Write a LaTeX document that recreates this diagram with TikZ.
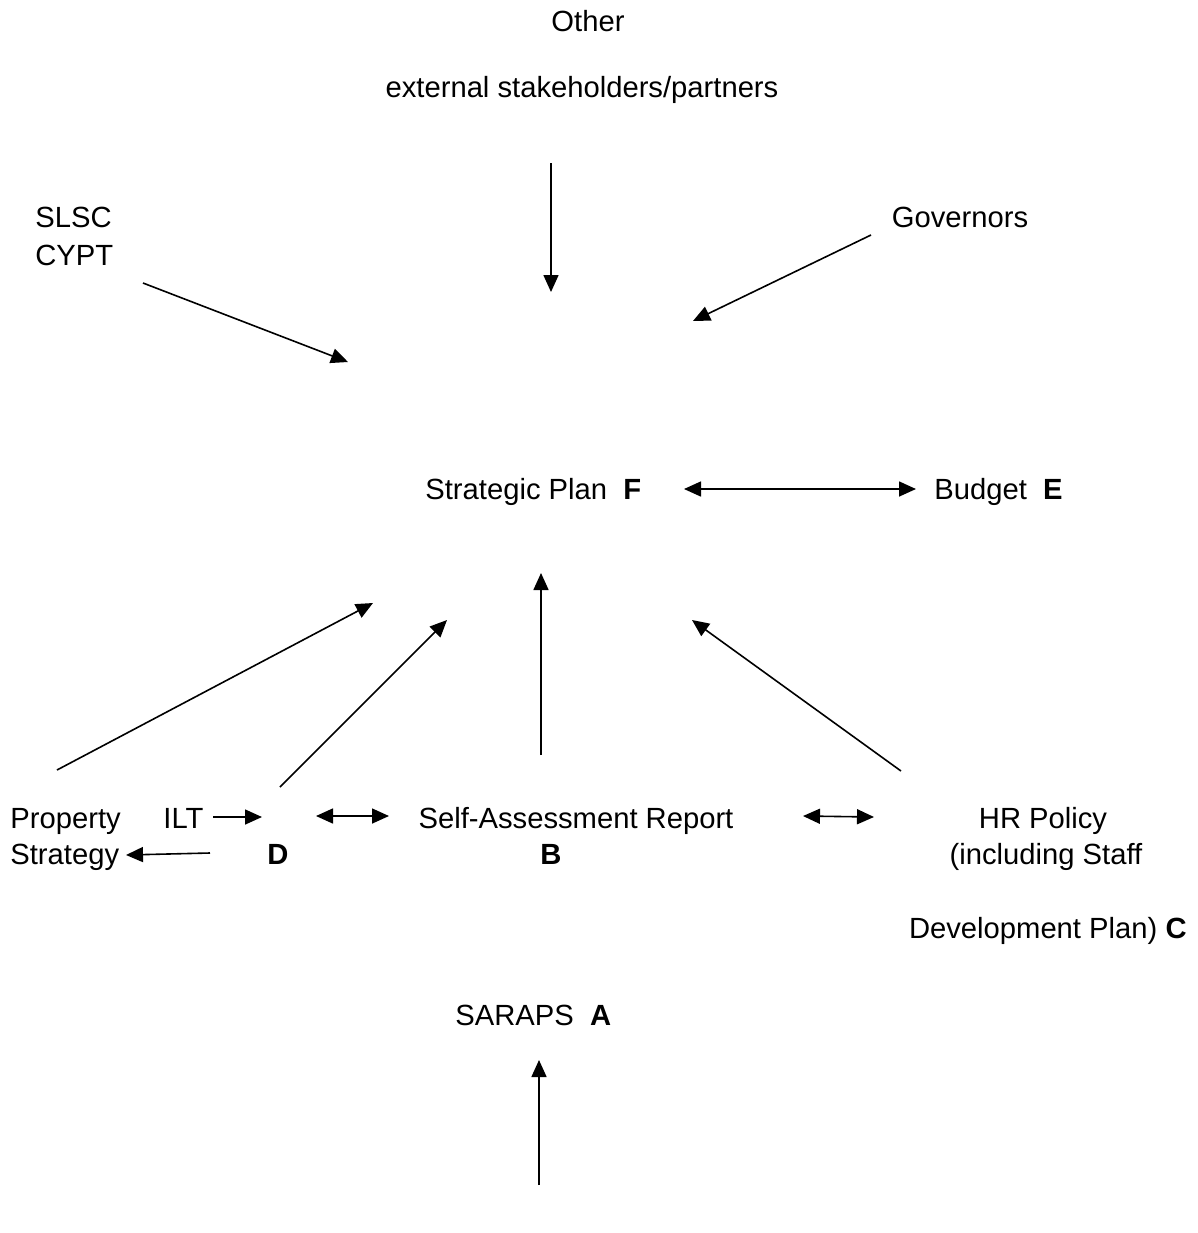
\documentclass[tikz,border=0pt]{standalone}
\usepackage{fontspec}
\setmainfont{Liberation Sans}
\usetikzlibrary{arrows.meta}
\begin{document}
\begin{tikzpicture}[x=0.5pt,y=-0.5pt,
  lbl/.style={inner sep=0pt,text height=11pt,text depth=2pt,font=\fontsize{14.6}{17}\selectfont},
  conn/.style={line width=0.8pt,-{Triangle[length=8.5pt,width=7.5pt]}},
  dconn/.style={line width=0.8pt,{Triangle[length=8.5pt,width=7.5pt]}-{Triangle[length=8.5pt,width=7.5pt]}}]
\useasboundingbox (0,0) rectangle (1198,1233);
% texts
\node[lbl] (other) at (588,22) {Other};
\node[lbl] (ext) at (582,88) {external stakeholders/partners};
\node[lbl,anchor=west] (slsc) at (35,218) {SLSC};
\node[lbl,anchor=west] (cypt) at (35,256) {CYPT};
\node[lbl] (gov) at (960,218) {Governors};
\node[lbl,anchor=west] (sp) at (425,490) {Strategic Plan\ \ \textbf{F}};
\node[lbl,anchor=west] (bud) at (934,490) {Budget\ \ \textbf{E}};
\node[lbl,anchor=west] (prop) at (10,819) {Property};
\node[lbl,anchor=west] (strat) at (10,855) {Strategy};
\node[lbl,anchor=west] (ilt) at (163,819) {ILT};
\node[lbl] (d) at (278,855) {\textbf{D}};
\node[lbl] (sar) at (576,819) {Self-Assessment Report};
\node[lbl] (b) at (551,855) {\textbf{B}};
\node[lbl] (hr1) at (1043,819) {HR Policy};
\node[lbl] (hr2) at (1046,855) {(including Staff};
\node[lbl,anchor=east] (hr3) at (1187,929) {Development Plan) \textbf{C}};
\node[lbl,anchor=west] (sa) at (455,1016) {SARAPS\ \ \textbf{A}};
% connector end points
\coordinate (o1) at (551,163); \coordinate (o2) at (551,292);
\coordinate (s1) at (143,283); \coordinate (s2) at (348,362);
\coordinate (g1) at (871,235); \coordinate (g2) at (693,321);
\coordinate (e1) at (684,489); \coordinate (e2) at (916,489);
\coordinate (p1) at (57,770);  \coordinate (p2) at (373,603);
\coordinate (d1) at (280,787); \coordinate (d2) at (447,620);
\coordinate (b1) at (541,755); \coordinate (b2) at (541,573);
\coordinate (c1) at (901,771); \coordinate (c2) at (692,620);
\coordinate (i1) at (213,817); \coordinate (i2) at (262,817);
\coordinate (q1) at (210,853); \coordinate (q2) at (126,855);
\coordinate (x1) at (316,816); \coordinate (x2) at (389,816);
\coordinate (y1) at (803,816); \coordinate (y2) at (874,817);
\coordinate (a1) at (539,1185); \coordinate (a2) at (539,1060);
% connectors
\draw[conn] (o1) -- (o2);
\draw[conn] (s1) -- (s2);
\draw[conn] (g1) -- (g2);
\draw[dconn] (e1) -- (e2);
\draw[conn] (p1) -- (p2);
\draw[conn] (d1) -- (d2);
\draw[conn] (b1) -- (b2);
\draw[conn] (c1) -- (c2);
\draw[conn] (i1) -- (i2);
\draw[conn] (q1) -- (q2);
\draw[dconn] (x1) -- (x2);
\draw[dconn] (y1) -- (y2);
\draw[conn] (a1) -- (a2);
\end{tikzpicture}
\end{document}
